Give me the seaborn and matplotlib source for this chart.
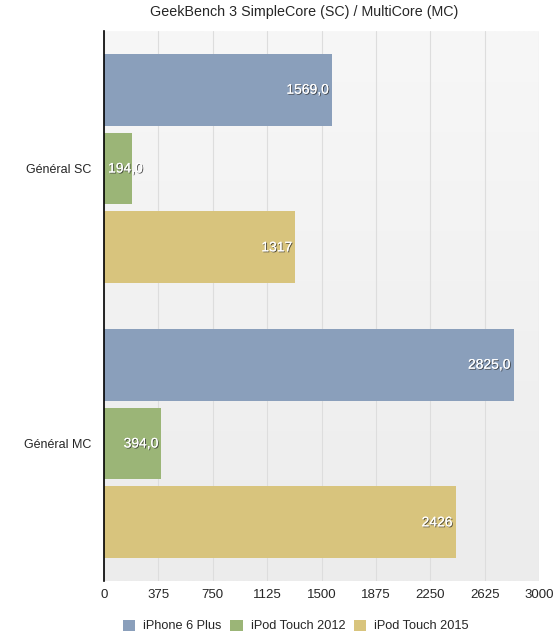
import numpy as np
import pandas as pd
import matplotlib
matplotlib.use("Agg")
import matplotlib.pyplot as plt
import matplotlib.patheffects as pe
import seaborn as sns

# Datos del gráfico
categorias = ["Général SC", "Général MC"]
appareils = ["iPhone 6 Plus", "iPod Touch 2012", "iPod Touch 2015"]
iphone_6_plus = [1569.0, 2825.0]
ipod_2012 = [194.0, 394.0]
ipod_2015 = [1317, 2426]
etiquettes = {
    "iPhone 6 Plus": ["1569,0", "2825,0"],
    "iPod Touch 2012": ["194,0", "394,0"],
    "iPod Touch 2015": ["1317", "2426"],
}
ticks_x = [0, 375, 750, 1125, 1500, 1875, 2250, 2625, 3000]
couleurs = ["#8a9fbb", "#9bb577", "#d8c47d"]

df = pd.DataFrame({
    "categorie": categorias * 3,
    "appareil": [a for a in appareils for _ in categorias],
    "valeur": iphone_6_plus + ipod_2012 + ipod_2015,
})

sns.set_style("white")
plt.rcParams["font.family"] = ["Liberation Sans", "DejaVu Sans"]

fig = plt.figure(figsize=(5.54, 6.33), dpi=100)
ax = fig.add_axes([104 / 554, 1 - 581 / 633, 435 / 554, 550 / 633])

# Fondo con degradado suave
grad = np.linspace(0, 1, 256).reshape(-1, 1)
ax.imshow(grad, extent=[0, 1, 0, 1], transform=ax.transAxes, aspect="auto",
          cmap=matplotlib.colors.LinearSegmentedColormap.from_list("bg", ["#f7f7f7", "#ececec"]),
          zorder=0)

sns.barplot(data=df, y="categorie", x="valeur", hue="appareil", orient="h",
            palette=couleurs, width=0.86, gap=0.09, ax=ax, legend=True, saturation=1,
            edgecolor="none", zorder=2)

ax.set_xlim(0, 3000)
ax.set_ylim(1.5, -0.5)
ax.set_xticks(ticks_x)
ax.set_xticklabels([str(t) for t in ticks_x], fontsize=9.5)
ax.tick_params(axis="x", length=0, pad=6)
ax.tick_params(axis="y", length=0, pad=9, labelsize=9)
ax.set_xlabel("")
ax.set_ylabel("")
ax.grid(axis="x", color="#dddddd", linewidth=0.8, zorder=1)
ax.set_axisbelow(True)
for s in ["top", "right", "bottom"]:
    ax.spines[s].set_visible(False)
ax.spines["left"].set_color("black")
ax.spines["left"].set_linewidth(1.2)
ax.spines["left"].set_zorder(5)

# Etiquetas de valores dentro de las barras
ombre = [pe.withSimplePatchShadow(offset=(0.7, -0.7), shadow_rgbFace="#333333", alpha=0.8), pe.Normal()]
for conteneur, app in zip(ax.containers, appareils):
    for barre, txt in zip(conteneur, etiquettes[app]):
        w = barre.get_width()
        yc = barre.get_y() + barre.get_height() / 2
        if w < 300:
            ax.text(28, yc, txt, ha="left", va="center", color="white", fontsize=10,
                    path_effects=ombre, zorder=6)
        else:
            ax.text(w - 20, yc, txt, ha="right", va="center", color="white", fontsize=10,
                    path_effects=ombre, zorder=6)

leg = ax.legend(loc="center", bbox_to_anchor=(296 / 554, 1 - 626 / 633),
                bbox_transform=fig.transFigure, ncol=3, frameon=False, fontsize=9.2,
                handlelength=0.95, handleheight=0.95, handletextpad=0.63, columnspacing=0.7,
                borderpad=0)

fig.text(304 / 554, 1 - 12 / 633, "GeekBench 3 SimpleCore (SC) / MultiCore (MC)",
         ha="center", va="center", fontsize=10.3)

fig.savefig("out.png", dpi=100, facecolor="white")
